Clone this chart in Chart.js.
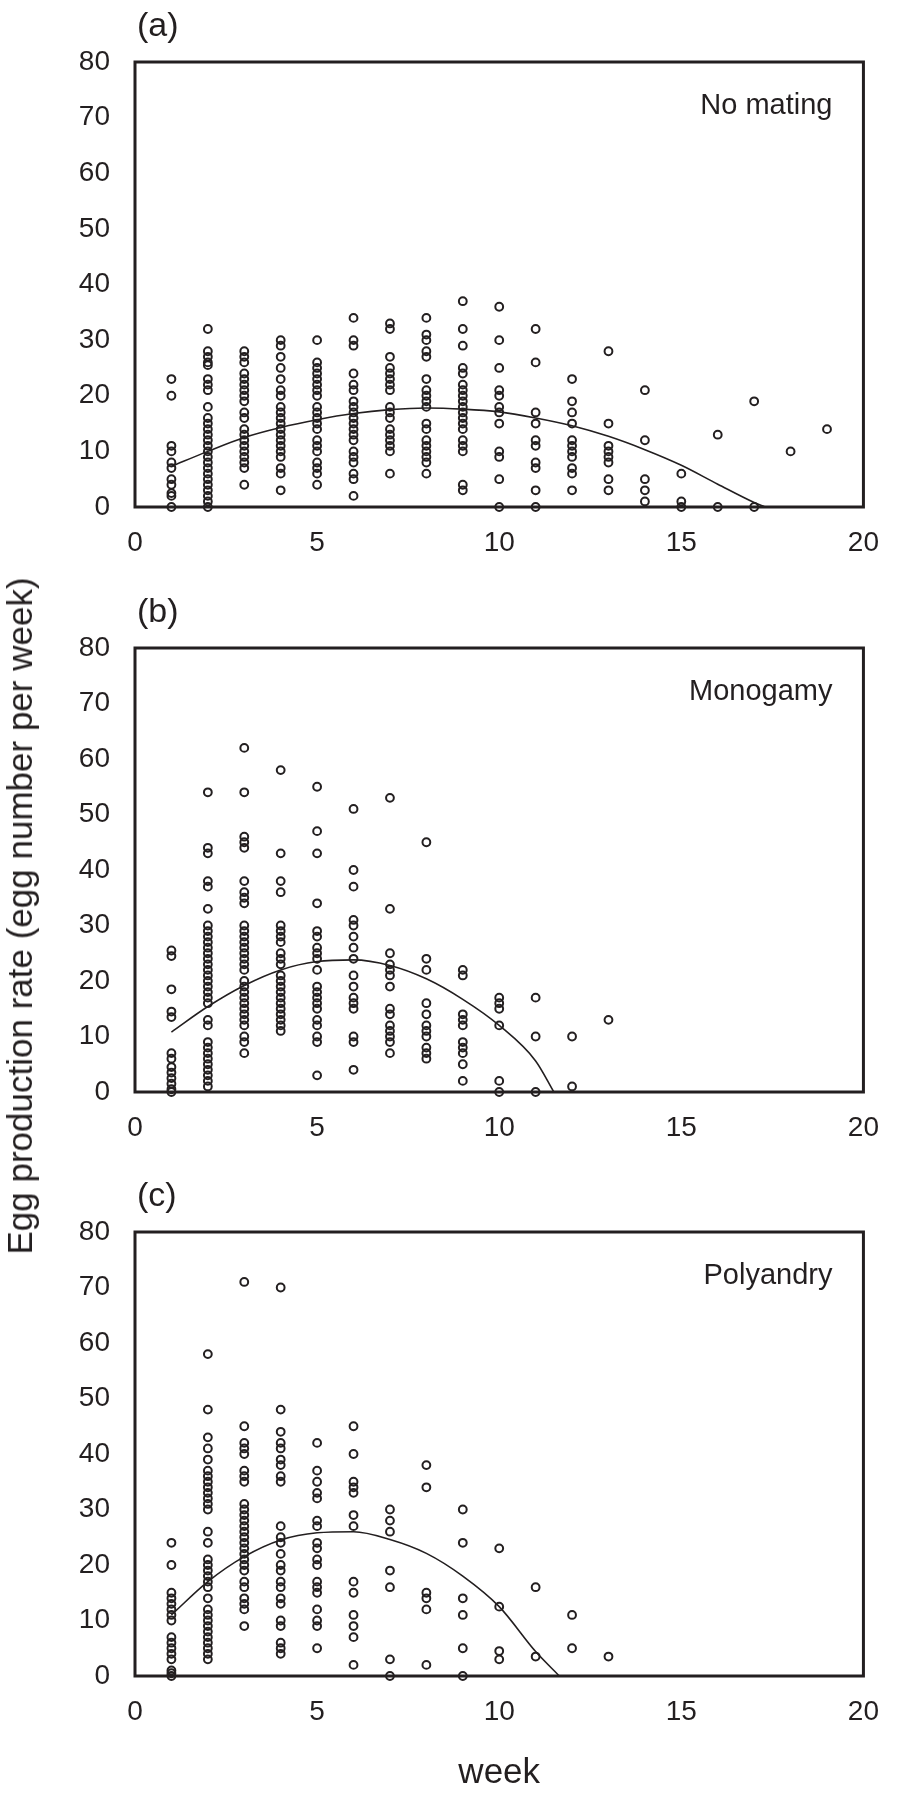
<!DOCTYPE html>
<html>
<head>
<meta charset="utf-8">
<script src="https://cdn.jsdelivr.net/npm/chart.js@4.4.1/dist/chart.umd.min.js"></script>
<style>
  html, body { margin: 0; padding: 0; background: #fff; }
  #page { position: relative; width: 898px; height: 1795px; overflow: hidden; }
  canvas { position: absolute; left: 0; }
  #ytitle {
    position: absolute; left: 20px; top: 916px;
    transform: translate(-50%, -50%) rotate(-90deg);
    font: 35px 'Liberation Sans', Arial, sans-serif; color: #231f20;
    white-space: nowrap;
  }
</style>
</head>
<body>
<div id="page">
  <canvas id="chartA" width="898" height="585" style="top:0"></canvas>
  <canvas id="chartB" width="898" height="585" style="top:585px"></canvas>
  <canvas id="chartC" width="898" height="625" style="top:1170px"></canvas>
  <div id="ytitle">Egg production rate (egg number per week)</div>
</div>
<script>
// egg production per female, one list per week (week 1 first)

const INK = '#231f20';

const xTickValues = [0, 5, 10, 15, 20];
const yTickValues = [0, 10, 20, 30, 40, 50, 60, 70, 80];
const weeks = [1, 2, 3, 4, 5, 6, 7, 8, 9, 10, 11, 12, 13, 14, 15, 16, 17, 18, 19];

// (a) no mating
const noMating = [
  [23, 20, 11, 10, 8, 7, 5, 4, 2.5, 2, 0],
  [32, 28, 27, 26, 25.5, 23, 22, 21, 18, 16, 15, 14, 13, 12, 11, 10, 9, 8, 7, 6, 5, 4, 3, 2, 1, 0],
  [28, 27, 26, 24, 23, 22, 21, 20, 19, 17, 16, 14, 13, 12, 11, 10, 9, 8, 7, 4],
  [30, 29, 27, 25, 23, 21, 20, 18, 17, 16, 15, 14, 13, 12, 11, 10, 9, 7, 6, 3],
  [30, 26, 25, 24, 23, 22, 21, 20, 18, 17, 16, 15, 14, 12, 11, 10, 8, 7, 6, 4],
  [34, 30, 29, 24, 22, 21, 19, 18, 17, 16, 15, 14, 13, 12, 10, 9, 8, 6, 5, 2],
  [33, 32, 27, 25, 24, 23, 22, 21, 18, 17, 16, 14, 13, 12, 11, 10, 6],
  [34, 31, 30, 28, 27, 23, 21, 20, 19, 18, 15, 14, 12, 11, 10, 9, 8, 6],
  [37, 32, 29, 25, 24, 22, 21, 20, 19, 18, 17, 16, 15, 14, 12, 11, 10, 4, 3],
  [36, 30, 25, 21, 20, 18, 17, 15, 10, 9, 5, 0],
  [32, 26, 17, 15, 12, 11, 8, 7, 3, 0],
  [23, 19, 17, 15, 12, 11, 10, 9, 7, 6, 3],
  [28, 15, 11, 10, 9, 8, 5, 3],
  [21, 12, 5, 3, 1],
  [6, 1, 0],
  [13, 0],
  [19, 0],
  [10],
  [14]
];
const noMatingCurveWeek = [1, 2, 3, 4, 5, 6, 7, 8, 9, 10, 11, 12, 13, 14, 15, 16, 17, 17.3];
const noMatingCurveRate = [7.3, 10, 12.5, 14.3, 15.7, 16.8, 17.5, 17.8, 17.6, 17.1, 16, 14.6, 12.7, 10.3, 7.5, 4.1, 0.8, 0];

// (b) monogamy
const monogamy = [
  [25.5, 24.5, 18.5, 14.5, 13.5, 7, 6, 4.5, 3.5, 2.5, 1.5, 0.5, 0],
  [54, 44, 43, 38, 37, 33, 30, 29, 28, 27, 26, 25, 24, 23, 22, 21, 20, 19, 18, 17, 16, 13, 12, 9, 8, 7, 6, 5, 4, 3, 2, 1],
  [62, 54, 46, 45, 44, 38, 36, 35, 34, 30, 29, 28, 27, 26, 25, 24, 23, 22, 20, 19, 18, 17, 16, 15, 14, 13, 12, 10, 9, 7],
  [58, 43, 38, 36, 30, 29, 28, 27, 25, 24, 23, 21, 20, 19, 18, 17, 16, 15, 14, 13, 12, 11],
  [55, 47, 43, 34, 29, 28, 26, 25, 24, 22, 19, 18, 17, 16, 15, 13, 12, 10, 9, 3],
  [51, 40, 37, 31, 30, 28, 26, 24, 21, 19, 17, 16, 15, 10, 9, 4],
  [53, 33, 25, 23, 22, 21, 19, 15, 14, 12, 11, 10, 9, 7],
  [45, 24, 22, 16, 14, 12, 11, 10, 8, 7, 6],
  [22, 21, 14, 13, 12, 9, 8, 7, 5, 2],
  [17, 16, 15, 12, 2, 0],
  [17, 10, 0],
  [10, 1],
  [13]
];
const monogamyCurveWeek = [1, 2, 3, 4, 5, 6, 7, 8, 9, 10, 11, 11.5];
const monogamyCurveRate = [10.8, 15.4, 19.2, 22, 23.5, 23.8, 22.8, 20.4, 16.7, 12, 5.6, 0];

// (c) polyandry
const polyandry = [
  [24, 20, 15, 14, 13, 12, 11, 10, 7, 6, 5, 4, 3, 1, 0.5, 0],
  [58, 48, 43, 41, 39, 37, 36, 35, 34, 33, 32, 31, 30, 26, 24, 21, 20, 19, 18, 17, 16, 14, 12, 11, 10, 9, 8, 7, 6, 5, 4, 3],
  [71, 45, 42, 41, 40, 37, 36, 35, 31, 30, 29, 28, 27, 26, 25, 24, 23, 22, 21, 20, 19, 17, 16, 14, 13, 12, 9],
  [70, 48, 44, 42, 41, 39, 38, 36, 35, 27, 25, 24, 22, 20, 19, 17, 16, 14, 13, 10, 9, 6, 5, 4],
  [42, 37, 35, 33, 32, 28, 27, 24, 23, 21, 20, 17, 16, 15, 12, 10, 9, 5],
  [45, 40, 35, 34, 33, 29, 27, 17, 15, 11, 9, 7, 2],
  [30, 28, 26, 19, 16, 3, 0],
  [38, 34, 15, 14, 12, 2],
  [30, 24, 14, 11, 5, 0],
  [23, 12.5, 4.5, 3],
  [16, 3.5],
  [11, 5],
  [3.5]
];
const polyandryCurveWeek = [1, 2, 3, 4, 5, 6, 7, 8, 9, 10, 11, 11.65];
const polyandryCurveRate = [11, 17, 21.5, 24.5, 25.8, 26, 24.6, 22.1, 18, 12.5, 4.4, 0];

function toPoints(byWeek) {
  const pts = [];
  byWeek.forEach((vals, i) => {
    vals.forEach(v => pts.push({ x: weeks[i], y: v }));
  });
  return pts;
}

function toCurve(xs, ys) {
  return xs.map((x, i) => ({ x: x, y: ys[i] }));
}

// frame round the plot + panel letter + treatment name
const panelText = {
  id: 'panelText',
  beforeDatasetsDraw(chart) {
    const { ctx, chartArea } = chart;
    ctx.save();
    ctx.strokeStyle = INK;
    ctx.lineWidth = 3;
    ctx.strokeRect(chartArea.left, chartArea.top, chartArea.right - chartArea.left, chartArea.bottom - chartArea.top);
    ctx.restore();
  },
  afterDraw(chart, args, opts) {
    const { ctx, chartArea } = chart;
    ctx.save();
    ctx.fillStyle = INK;
    ctx.font = "34px 'Liberation Sans', Arial, sans-serif";
    ctx.textAlign = 'left';
    ctx.textBaseline = 'middle';
    ctx.fillText(opts.label, chartArea.left + 2, chartArea.top - 35);
    ctx.font = "29px 'Liberation Sans', Arial, sans-serif";
    ctx.textAlign = 'right';
    ctx.textBaseline = 'alphabetic';
    ctx.fillText(opts.note, chartArea.right - 31, chartArea.top + 52);
    ctx.restore();
  }
};

Chart.defaults.font.family = "'Liberation Sans', Arial, sans-serif";
Chart.defaults.color = INK;

function dibujarPanel(canvasId, byWeek, curveX, curveY, label, note, topPad, axisHeight, showWeek) {
  const canvas = document.getElementById(canvasId);
  if (!canvas) return;
  new Chart(canvas.getContext('2d'), {
    type: 'scatter',
    data: {
      datasets: [{
        data: toPoints(byWeek),
        pointRadius: 3.9,
        pointHoverRadius: 3.9,
        pointBorderWidth: 2,
        pointBorderColor: INK,
        pointBackgroundColor: 'rgba(0,0,0,0)',
        clip: false
      }, {
        data: toCurve(curveX, curveY),
        showLine: true,
        borderColor: INK,
        borderWidth: 1.6,
        pointRadius: 0,
        cubicInterpolationMode: 'monotone',
        fill: false
      }]
    },
    options: {
      responsive: false,
      animation: false,
      events: [],
      layout: { padding: { top: topPad, right: 15, bottom: 0, left: 0 } },
      plugins: {
        legend: { display: false },
        tooltip: { enabled: false },
        panelText: { label: label, note: note }
      },
      scales: {
        x: {
          type: 'linear',
          min: 0,
          max: 20,
          afterBuildTicks: s => { s.ticks = xTickValues.map(v => ({ value: v })); },
          afterFit: s => { s.height = axisHeight; },
          grid: { display: false, drawTicks: false },
          border: { display: false },
          ticks: { padding: 19, maxRotation: 0, font: { size: 28 }, color: INK },
          title: {
            display: showWeek,
            text: 'week',
            color: INK,
            font: { size: 35 },
            padding: { top: 0, bottom: 1 }
          }
        },
        y: {
          min: 0,
          max: 80,
          afterBuildTicks: s => { s.ticks = yTickValues.map(v => ({ value: v })); },
          afterFit: s => { s.width = 135; },
          grid: { display: false, drawTicks: false },
          border: { display: false },
          ticks: { padding: 25, font: { size: 28 }, color: INK }
        }
      }
    },
    plugins: [panelText]
  });
}

dibujarPanel('chartA', noMating, noMatingCurveWeek, noMatingCurveRate, '(a)', 'No mating', 62, 78, false);
dibujarPanel('chartB', monogamy, monogamyCurveWeek, monogamyCurveRate, '(b)', 'Monogamy', 63, 78, false);
dibujarPanel('chartC', polyandry, polyandryCurveWeek, polyandryCurveRate, '(c)', 'Polyandry', 62, 119, true);
</script>
</body>
</html>
